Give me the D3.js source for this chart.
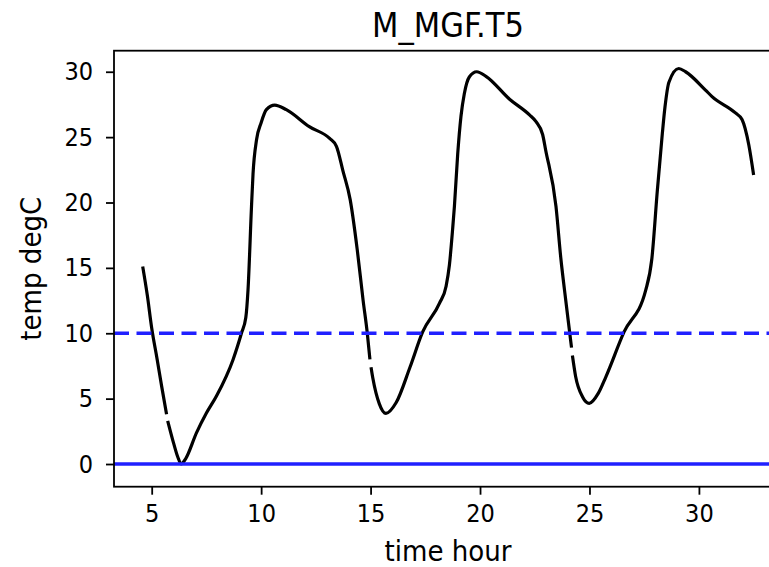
<!DOCTYPE html>
<html>
<head>
<meta charset="utf-8">
<script src="https://cdn.jsdelivr.net/npm/d3@7"></script>
<style>
  html, body { margin: 0; padding: 0; background: #fff; }
  svg { display: block; }
  text { font-family: "DejaVu Sans Condensed", "DejaVu Sans", sans-serif; font-stretch: condensed; fill: #000; }
</style>
</head>
<body>
<svg id="chart" width="769" height="567"></svg>
<script>
// ---- data ----
const title = "M_MGF.T5";
const xLabel = "time hour";
const yLabel = "temp degC";
const xTicks = [5, 10, 15, 20, 25, 30];
const yTicks = [0, 5, 10, 15, 20, 25, 30];
const thresholdSolid = 0;
const thresholdDashed = 10;

// null marks a missing sample (gap in the trace)
const hours = [4.59, 4.8, 5.0, 5.25, 5.46, 5.68, 5.70, 5.73, 6.0, 6.2, 6.35, 6.55, 7.05, 7.5, 7.96, 8.72, 9.1, 9.3, 9.4,
  9.56, 9.63, 9.79, 10.0, 10.24, 10.62, 11.15, 12.2, 13.13, 13.44, 13.74, 14.07, 14.39, 14.66, 14.85, 14.97, 15.0, 15.02,
  15.1, 15.4, 15.7, 16.17, 16.8, 17.38, 18.15, 18.45, 18.6, 18.75, 18.83, 18.98, 19.13, 19.28, 19.51, 19.85,
  20.27, 21.35, 22.26, 22.55, 22.86, 23.0, 23.47, 23.7, 23.86, 24.1, 24.18, 24.20, 24.22, 24.37, 24.68, 24.99,
  25.4, 25.75, 26.58, 27.57, 27.85, 28.1, 28.33, 28.45, 28.63, 29.08, 29.39, 30.3, 30.6, 31.67, 31.97, 32.28, 32.5];
const temps = [15.1, 12.9, 10.4, 8.0, 5.9, 3.8, null, 3.3, 1.6, 0.5, 0.0, 0.4, 2.4, 3.9, 5.2, 8.0, 10.0, 11.2, 13.3,
  19.7, 22.2, 24.8, 26.1, 27.1, 27.45, 27.1, 25.8, 24.9, 24.3, 22.4, 20.2, 16.4, 12.5, 10.0, 8.0, null, 7.4,
  6.6, 4.6, 3.87, 4.7, 7.4, 10.1, 12.3, 13.6, 15.2, 18.0, 19.7, 23.7, 26.6, 28.3, 29.6, 30.0,
  29.65, 27.9, 26.7, 26.2, 25.2, 24.0, 19.7, 15.6, 13.3, 10.0, 8.9, null, 8.3, 6.67, 5.15, 4.64,
  5.4, 6.67, 10.1, 13.3, 15.7, 20.9, 25.3, 27.3, 29.2, 30.25, 30.0, 28.6, 28.1, 26.85, 26.35, 24.4, 22.1];

// ---- layout ----
const W = 769, H = 567;
const mLeft = 114, mRight = 788, mTop = 50.7, mBottom = 486.7;
const xDomain = [3.278, 34.07];
const yDomain = [-1.735, 31.61];

const svg = d3.select("#chart");
svg.append("rect").attr("width", W).attr("height", H).attr("fill", "#fff");

const x = d3.scaleLinear().domain(xDomain).range([mLeft, mRight]);
const y = d3.scaleLinear().domain(yDomain).range([mBottom, mTop]);

const data = hours.map((h, i) => ({ h, t: temps[i] }));

const clipId = "plotclip";
svg.append("clipPath").attr("id", clipId)
  .append("rect").attr("x", mLeft).attr("y", mTop).attr("width", mRight - mLeft).attr("height", mBottom - mTop);

const plot = svg.append("g").attr("clip-path", `url(#${clipId})`);

const line = d3.line()
  .defined(d => d.t !== null)
  .x(d => x(d.h))
  .y(d => y(d.t))
  .curve(d3.curveMonotoneX);

plot.append("path")
  .datum(data)
  .attr("d", line)
  .attr("fill", "none")
  .attr("stroke", "#000")
  .attr("stroke-width", 3.2)
  .attr("stroke-linejoin", "round");

plot.append("line")
  .attr("x1", mLeft).attr("x2", mRight)
  .attr("y1", y(thresholdDashed)).attr("y2", y(thresholdDashed))
  .attr("stroke", "#2020ff").attr("stroke-width", 3.4)
  .attr("stroke-dasharray", "15,7.5");

plot.append("line")
  .attr("x1", mLeft).attr("x2", mRight)
  .attr("y1", y(thresholdSolid)).attr("y2", y(thresholdSolid))
  .attr("stroke", "#2020ff").attr("stroke-width", 3.4);

// axes
const tickFont = 25;
const labelFont = 29;
const titleFont = 34;
const xAxis = d3.axisBottom(x).tickValues(xTicks).tickSize(8).tickPadding(10).tickFormat(d3.format("d"));
const yAxis = d3.axisLeft(y).tickValues(yTicks).tickSize(8).tickPadding(13).tickFormat(d3.format("d"));

const gx = svg.append("g").attr("transform", `translate(0,${mBottom})`).call(xAxis);
const gy = svg.append("g").attr("transform", `translate(${mLeft},0)`).call(yAxis);
[gx, gy].forEach(g => {
  g.attr("font-family", null).attr("font-size", null);
  g.select(".domain").remove();
  g.selectAll(".tick line").attr("stroke", "#000").attr("stroke-width", 1.8);
  g.selectAll(".tick text").attr("font-size", tickFont).attr("fill", "#000");
});

// frame
svg.append("rect")
  .attr("x", mLeft).attr("y", mTop)
  .attr("width", mRight - mLeft).attr("height", mBottom - mTop)
  .attr("fill", "none").attr("stroke", "#000").attr("stroke-width", 1.8);

// labels
svg.append("text")
  .attr("x", 448).attr("y", 37)
  .attr("text-anchor", "middle")
  .attr("font-size", titleFont)
  .text(title);

svg.append("text")
  .attr("x", 448).attr("y", 561)
  .attr("text-anchor", "middle")
  .attr("font-size", labelFont)
  .text(xLabel);

svg.append("text")
  .attr("transform", `translate(41,${(mTop + mBottom) / 2}) rotate(-90)`)
  .attr("text-anchor", "middle")
  .attr("font-size", labelFont)
  .text(yLabel);
</script>
</body>
</html>
